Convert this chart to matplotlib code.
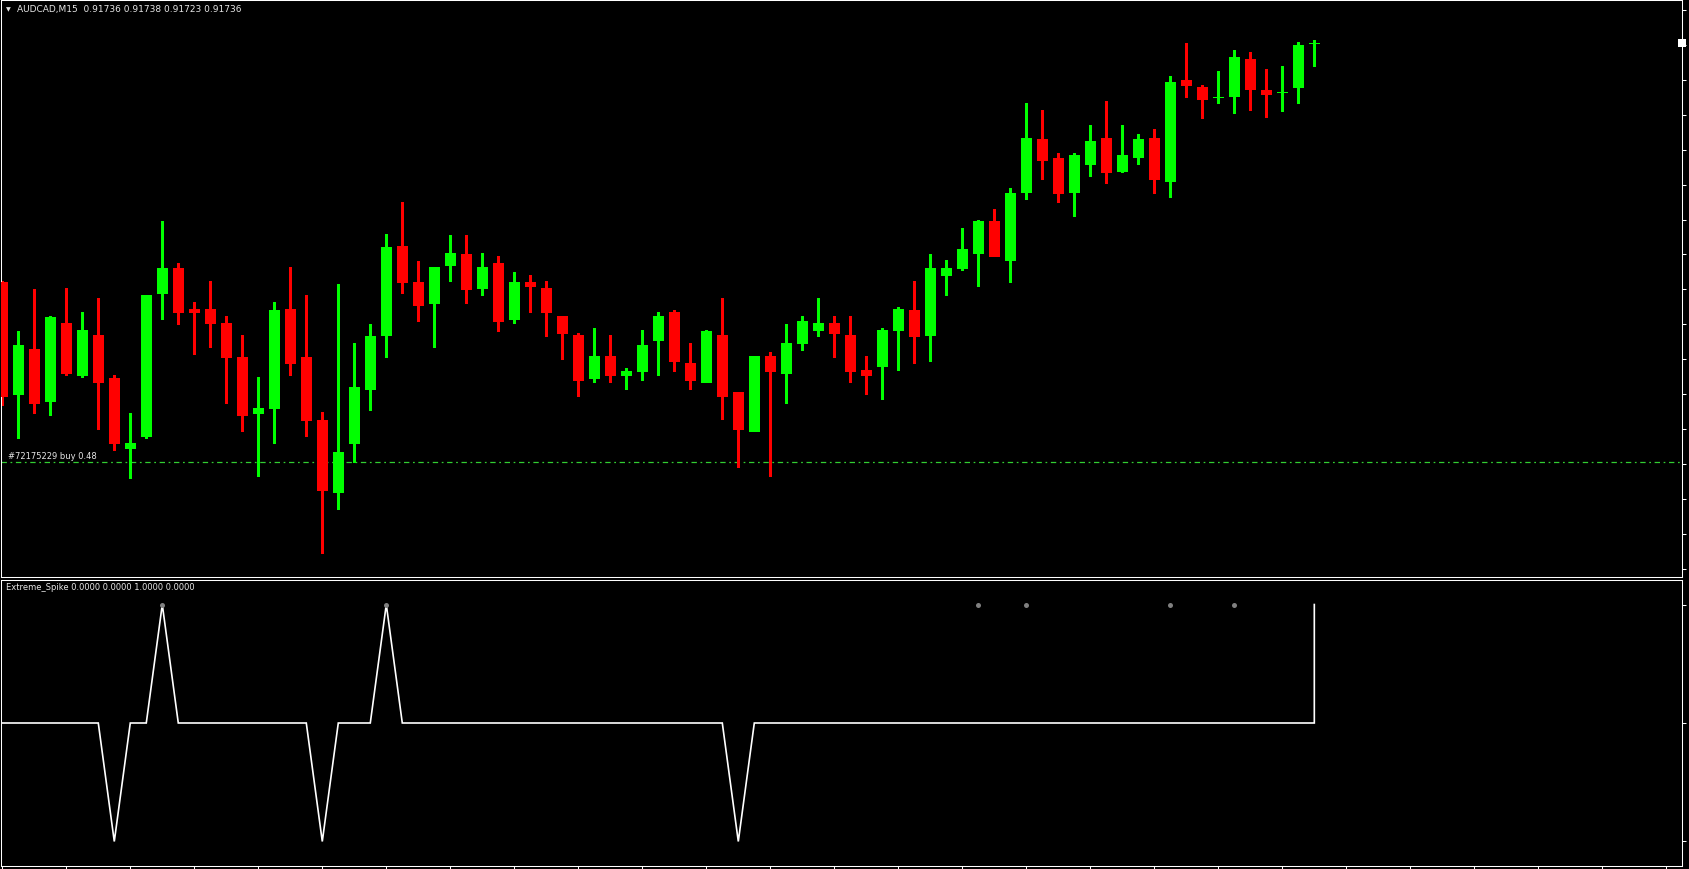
import matplotlib
matplotlib.use("Agg")
import matplotlib.pyplot as plt
import numpy as np

# ---------------- data ----------------
symbol = "AUDCAD,M15"

opens = [0.91599, 0.91535, 0.91561, 0.91531, 0.91576, 0.91546, 0.91569, 0.91544, 0.91504, 0.91511,
         0.91593, 0.91607, 0.91584, 0.91584, 0.91576, 0.91556, 0.91524, 0.91527, 0.91584, 0.91556,
         0.91520, 0.91479, 0.91507, 0.91538, 0.91569, 0.91620, 0.91599, 0.91587, 0.91609, 0.91615,
         0.91596, 0.91610, 0.91578, 0.91599, 0.91596, 0.91580, 0.91569, 0.91544, 0.91557, 0.91546,
         0.91548, 0.91566, 0.91582, 0.91553, 0.91542, 0.91569, 0.91536, 0.91514, 0.91557, 0.91547,
         0.91564, 0.91572, 0.91576, 0.91569, 0.91549, 0.91551, 0.91572, 0.91583, 0.91569, 0.91603,
         0.91607, 0.91616, 0.91634, 0.91612, 0.91651, 0.91681, 0.91670, 0.91651, 0.91667, 0.91682,
         0.91663, 0.91671, 0.91682, 0.91657, 0.91715, 0.91711, 0.91705, 0.91706, 0.91727, 0.91709,
         0.91708, 0.91711, 0.91736]
highs = [0.91600, 0.91571, 0.91595, 0.91580, 0.91596, 0.91582, 0.91590, 0.91546, 0.91524, 0.91592,
         0.91634, 0.91610, 0.91588, 0.91600, 0.91580, 0.91569, 0.91545, 0.91588, 0.91608, 0.91592,
         0.91525, 0.91598, 0.91564, 0.91575, 0.91627, 0.91645, 0.91611, 0.91608, 0.91626, 0.91626,
         0.91616, 0.91614, 0.91605, 0.91603, 0.91600, 0.91580, 0.91570, 0.91573, 0.91569, 0.91550,
         0.91572, 0.91582, 0.91583, 0.91564, 0.91572, 0.91590, 0.91536, 0.91557, 0.91559, 0.91575,
         0.91580, 0.91590, 0.91580, 0.91580, 0.91557, 0.91573, 0.91585, 0.91600, 0.91615, 0.91612,
         0.91630, 0.91635, 0.91641, 0.91653, 0.91702, 0.91698, 0.91673, 0.91673, 0.91689, 0.91703,
         0.91689, 0.91684, 0.91687, 0.91717, 0.91736, 0.91712, 0.91720, 0.91732, 0.91731, 0.91721,
         0.91723, 0.91737, 0.91738]
lows = [0.91529, 0.91510, 0.91524, 0.91523, 0.91546, 0.91545, 0.91515, 0.91503, 0.91487, 0.91510,
        0.91578, 0.91575, 0.91558, 0.91562, 0.91530, 0.91514, 0.91488, 0.91507, 0.91546, 0.91511,
        0.91444, 0.91469, 0.91496, 0.91526, 0.91556, 0.91593, 0.91577, 0.91562, 0.91600, 0.91587,
        0.91592, 0.91571, 0.91576, 0.91582, 0.91568, 0.91555, 0.91534, 0.91542, 0.91542, 0.91538,
        0.91543, 0.91546, 0.91548, 0.91538, 0.91542, 0.91521, 0.91493, 0.91514, 0.91488, 0.91530,
        0.91560, 0.91568, 0.91556, 0.91542, 0.91535, 0.91532, 0.91549, 0.91553, 0.91554, 0.91592,
        0.91606, 0.91597, 0.91614, 0.91599, 0.91647, 0.91658, 0.91645, 0.91637, 0.91660, 0.91656,
        0.91662, 0.91667, 0.91650, 0.91648, 0.91705, 0.91693, 0.91702, 0.91696, 0.91698, 0.91694,
        0.91697, 0.91702, 0.91723]
closes = [0.91534, 0.91563, 0.91530, 0.91579, 0.91547, 0.91572, 0.91542, 0.91507, 0.91507, 0.91592,
          0.91607, 0.91582, 0.91582, 0.91576, 0.91556, 0.91523, 0.91527, 0.91583, 0.91553, 0.91520,
          0.91480, 0.91502, 0.91539, 0.91568, 0.91619, 0.91599, 0.91586, 0.91608, 0.91616, 0.91595,
          0.91608, 0.91577, 0.91599, 0.91597, 0.91582, 0.91570, 0.91543, 0.91557, 0.91546, 0.91548,
          0.91563, 0.91580, 0.91554, 0.91543, 0.91571, 0.91534, 0.91515, 0.91557, 0.91548, 0.91564,
          0.91577, 0.91576, 0.91570, 0.91548, 0.91546, 0.91572, 0.91584, 0.91568, 0.91607, 0.91607,
          0.91618, 0.91634, 0.91614, 0.91650, 0.91682, 0.91669, 0.91650, 0.91672, 0.91680, 0.91662,
          0.91672, 0.91681, 0.91658, 0.91714, 0.91712, 0.91704, 0.91705, 0.91728, 0.91710, 0.91707,
          0.91708, 0.91735, 0.91736]

# Extreme_Spike indicator line values per bar
spike = [0, 0, 0, 0, 0, 0, 0, -1, 0, 0,
         1, 0, 0, 0, 0, 0, 0, 0, 0, 0,
         -1, 0, 0, 0, 1, 0, 0, 0, 0, 0,
         0, 0, 0, 0, 0, 0, 0, 0, 0, 0,
         0, 0, 0, 0, 0, 0, -1, 0, 0, 0,
         0, 0, 0, 0, 0, 0, 0, 0, 0, 0,
         0, 0, 0, 0, 0, 0, 0, 0, 0, 0,
         0, 0, 0, 0, 0, 0, 0, 0, 0, 0,
         0, 0, 1]
signal_bars = [10, 24, 61, 64, 73, 77]
signal_level = 1.0
indicator_name = "Extreme_Spike"
indicator_buffers = [0.0, 0.0, 1.0, 0.0]

order_price = 0.91496
order_label = "#72175229 buy 0.48"

price_ticks = [0.91755, 0.91735, 0.91715, 0.91695, 0.91675, 0.91655, 0.91635, 0.91615, 0.91595,
               0.91575, 0.91555, 0.91535, 0.91515, 0.91495, 0.91475, 0.91455, 0.91435]
ind_ticks = [-1, 0, 1]

# ---------------- style ----------------
W, H = 1689, 870
BG = "black"
UP = "#00FF00"
DN = "#FF0000"
FG = "white"
TXT = "#E6E6E6"

fig = plt.figure(figsize=(W / 100, H / 100), dpi=100, facecolor=BG)

ax = fig.add_axes([1 / W, 292 / H, 1681 / W, 577 / H], facecolor=BG)
ai = fig.add_axes([1 / W, 3 / H, 1681 / W, 286 / H], facecolor=BG)

n = len(opens)
x = np.arange(n)
o = np.array(opens); h = np.array(highs); l = np.array(lows); c = np.array(closes)
up = c >= o
cols = np.where(up, UP, DN)

# wicks
ax.vlines(x, l, h, colors=cols, linewidth=0.75, antialiased=False, zorder=2)
# bodies
ax.bar(x, np.abs(c - o), bottom=np.minimum(o, c), width=0.61, color=cols,
       edgecolor=cols, linewidth=0.72, antialiased=False, zorder=3)

# order line
ax.axhline(order_price, color="#32CD32", linewidth=0.9, dashes=(4.3, 2.9, 1.4, 2.9), zorder=1)
ax.annotate(order_label, xy=(0, order_price), xycoords=ax.get_yaxis_transform(),
            xytext=(5, 4.7), textcoords="offset points", va="center", ha="left",
            color=TXT, fontsize=6, family="DejaVu Sans", zorder=5)

ax.set_xlim(-0.08, 104.98)
ax.set_ylim(0.914302, 0.917608)

# current price (bid) marker on the price scale
ax.plot([1.0], [closes[-1]], marker="s", markersize=6, color="white",
        transform=ax.get_yaxis_transform(), clip_on=False, zorder=6,
        markeredgewidth=0)

# indicator
ix = list(x[:-1]) + [x[-1], x[-1]]
iy = list(spike[:-1]) + [0, spike[-1]]
ai.plot(ix, iy, color="white", linewidth=1.2, solid_joinstyle="miter", zorder=2)
ai.plot(signal_bars, [signal_level] * len(signal_bars), "o", color="#808080",
        markersize=3.6, markeredgewidth=0, zorder=3)
ai.set_xlim(-0.08, 104.98)
ai.set_ylim(-1.207, 1.207)

for a in (ax, ai):
    for s in a.spines.values():
        s.set_color(FG)
        s.set_linewidth(0.75)
    a.yaxis.tick_right()
    a.tick_params(axis="y", colors=FG, direction="out", length=3, width=0.75,
                  labelright=False, labelleft=False)

ax.set_yticks(price_ticks)
ax.set_xticks([])

ai.set_yticks(ind_ticks)
ai.set_xticks(np.arange(0, 105, 4))
ai.tick_params(axis="x", colors=FG, direction="out", length=3, width=0.75, labelbottom=False)

# header texts
fig.text(6 / W, 1 - 9.5 / H, "\u25BC", color=TXT, fontsize=4.5, va="center", ha="left",
         family="DejaVu Sans")
fig.text(17 / W, 1 - 9.3 / H,
         f"{symbol}  {opens[-1]:.5f} {highs[-1]:.5f} {lows[-1]:.5f} {closes[-1]:.5f}",
         color=TXT, fontsize=6.5, va="center", ha="left", family="DejaVu Sans")
fig.text(6 / W, 1 - 587.3 / H,
         indicator_name + " " + " ".join(f"{v:.4f}" for v in indicator_buffers),
         color=TXT, fontsize=6, va="center", ha="left", family="DejaVu Sans")

fig.savefig("out.png", dpi=100, facecolor=BG)
